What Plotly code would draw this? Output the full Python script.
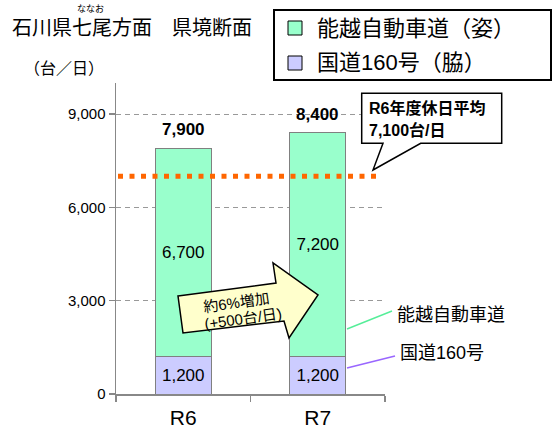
import plotly.graph_objects as go

# ---- data ----
years = ["R6", "R7"]
route160 = [1200, 1200]          # 国道160号（脇）
noetsu = [6700, 7200]            # 能越自動車道（姿）
totals = [7900, 8400]
avg_value = 7000                 # R6年度休日平均 line
y_ticks = [0, 3000, 6000, 9000]

NUM = "Liberation Sans, Arial, Noto Sans CJK JP"
JP = "Noto Sans CJK JP, Liberation Sans"

W, H = 552, 430
L, R, T, B = 116, 385, 83, 394   # plot area in window pixels


def px(x):
    return (x - L) / (R - L)


def py(y):
    return (B - y) / (B - T)


fig = go.Figure()

fig.add_trace(go.Bar(
    x=years, y=route160, name="国道160号（脇）",
    marker=dict(color="#CCCCFF", line=dict(color="#808080", width=1)),
    text=[f"{v:,}" for v in route160], textposition="inside",
    insidetextanchor="middle", constraintext="none",
    textfont=dict(family=NUM, size=17, color="black"),
    width=0.415, showlegend=False, hoverinfo="skip",
))
fig.add_trace(go.Bar(
    x=years, y=noetsu, name="能越自動車道（姿）",
    marker=dict(color="#99FFCC", line=dict(color="#808080", width=1)),
    text=[f"{v:,}" for v in noetsu], textposition="inside",
    insidetextanchor="middle", constraintext="none",
    textfont=dict(family=NUM, size=17, color="black"),
    width=0.415, showlegend=False, hoverinfo="skip",
))

annotations = []
shapes = []


def note(x, y, text, size, family=NUM, xanchor="center", angle=0):
    annotations.append(dict(
        x=px(x), y=py(y), xref="paper", yref="paper", text=text,
        xanchor=xanchor, yanchor="middle", showarrow=False, align="left",
        textangle=angle, borderpad=0,
        font=dict(family=family, size=size, color="black")))


# totals above bars
for yr, t in zip(years, totals):
    annotations.append(dict(
        x=yr, y=t, xref="x", yref="y", text=f"<b>{t:,}</b>",
        showarrow=False, xanchor="center", yanchor="bottom", yshift=7,
        font=dict(family=NUM, size=17, color="black")))

# orange average line
shapes.append(dict(type="line", xref="paper", yref="y",
                   x0=px(118), x1=px(378), y0=avg_value, y1=avg_value,
                   line=dict(color="#FF6600", width=5, dash="5px,6.5px")))

# callout
callout = (f"M {px(361.7)},{py(93.3)} L {px(501.7)},{py(93.3)} "
           f"L {px(501.7)},{py(143.3)} L {px(420.7)},{py(143.3)} "
           f"L {px(373)},{py(170)} L {px(383)},{py(143.3)} "
           f"L {px(361.7)},{py(143.3)} Z")
shapes.append(dict(type="path", xref="paper", yref="paper", path=callout,
                   fillcolor="white", line=dict(color="black", width=1.5)))
note(368, 108, "<b>R6年度休日平均</b>", 16, xanchor="left")
note(368, 130, "<b>7,100台/日</b>", 16, xanchor="left")

# block arrow
arrow_pts = [(178, 296), (276, 283), (273, 263), (318, 295),
             (289, 338), (284, 321), (183, 333)]
path = "M " + " L ".join(f"{px(a)},{py(b)}" for a, b in arrow_pts) + " Z"
shapes.append(dict(type="path", xref="paper", yref="paper", path=path,
                   fillcolor="#FFFFCC", line=dict(color="black", width=1.5)))
note(236, 302, "約6%増加", 15, angle=-8)
note(243, 318, "(+500台/日)", 15, angle=-8)

# leader lines + labels
shapes.append(dict(type="line", xref="paper", yref="paper",
                   x0=px(347), y0=py(329), x1=px(392), y1=py(311),
                   line=dict(color="#55EE99", width=1.5)))
shapes.append(dict(type="line", xref="paper", yref="paper",
                   x0=px(347), y0=py(368), x1=px(395), y1=py(356),
                   line=dict(color="#9966FF", width=1.5)))
note(396, 313, "能越自動車道", 18, family=JP, xanchor="left")
note(399, 353, "国道160号", 18, xanchor="left")

# legend box (manual)
shapes.append(dict(type="rect", xref="paper", yref="paper",
                   x0=px(274), x1=px(551), y0=py(10), y1=py(80),
                   fillcolor="white", line=dict(color="black", width=2)))
for (yy, col, label) in [(28, "#99FFCC", "能越自動車道（姿）"),
                         (63, "#CCCCFF", "国道160号（脇）")]:
    shapes.append(dict(type="rect", xref="paper", yref="paper",
                       x0=px(288), x1=px(302), y0=py(yy - 7), y1=py(yy + 7),
                       fillcolor=col, line=dict(color="black", width=1)))
    note(316, yy, label, 22, xanchor="left")

# titles
note(11, 26.5, "石川県七尾方面　県境断面", 20, family=JP, xanchor="left")
note(90, 8.5, "ななお", 9, family=JP)
note(64, 67, "（台／日）", 16, family=JP)

fig.update_layout(
    width=W, height=H,
    margin=dict(l=L, r=W - R, t=T, b=H - B, pad=0),
    paper_bgcolor="white", plot_bgcolor="white",
    barmode="stack", bargap=0.585,
    showlegend=False, hovermode=False,
    shapes=shapes, annotations=annotations,
    xaxis=dict(
        showline=True, linecolor="#888888", linewidth=1.5,
        ticks="outside", tickson="boundaries", ticklen=6,
        tickcolor="#888888", tickwidth=1.5, ticklabelstandoff=4,
        tickfont=dict(family=NUM, size=21, color="black"),
        showgrid=False, fixedrange=True, automargin=False,
    ),
    yaxis=dict(
        range=[0, 10000], tickvals=y_ticks, tickformat=",",
        showline=True, linecolor="#888888", linewidth=1.5,
        ticks="outside", ticklen=6, tickcolor="#888888", tickwidth=1.5,
        tickfont=dict(family=NUM, size=15, color="black"),
        showgrid=True, gridcolor="#999999", gridwidth=1.2,
        griddash="5px,4px", zeroline=False, fixedrange=True,
        automargin=False,
    ),
)

fig.write_html("out.html",
               config={"displayModeBar": False, "staticPlot": True},
               post_script="document.body.style.margin='0';")
